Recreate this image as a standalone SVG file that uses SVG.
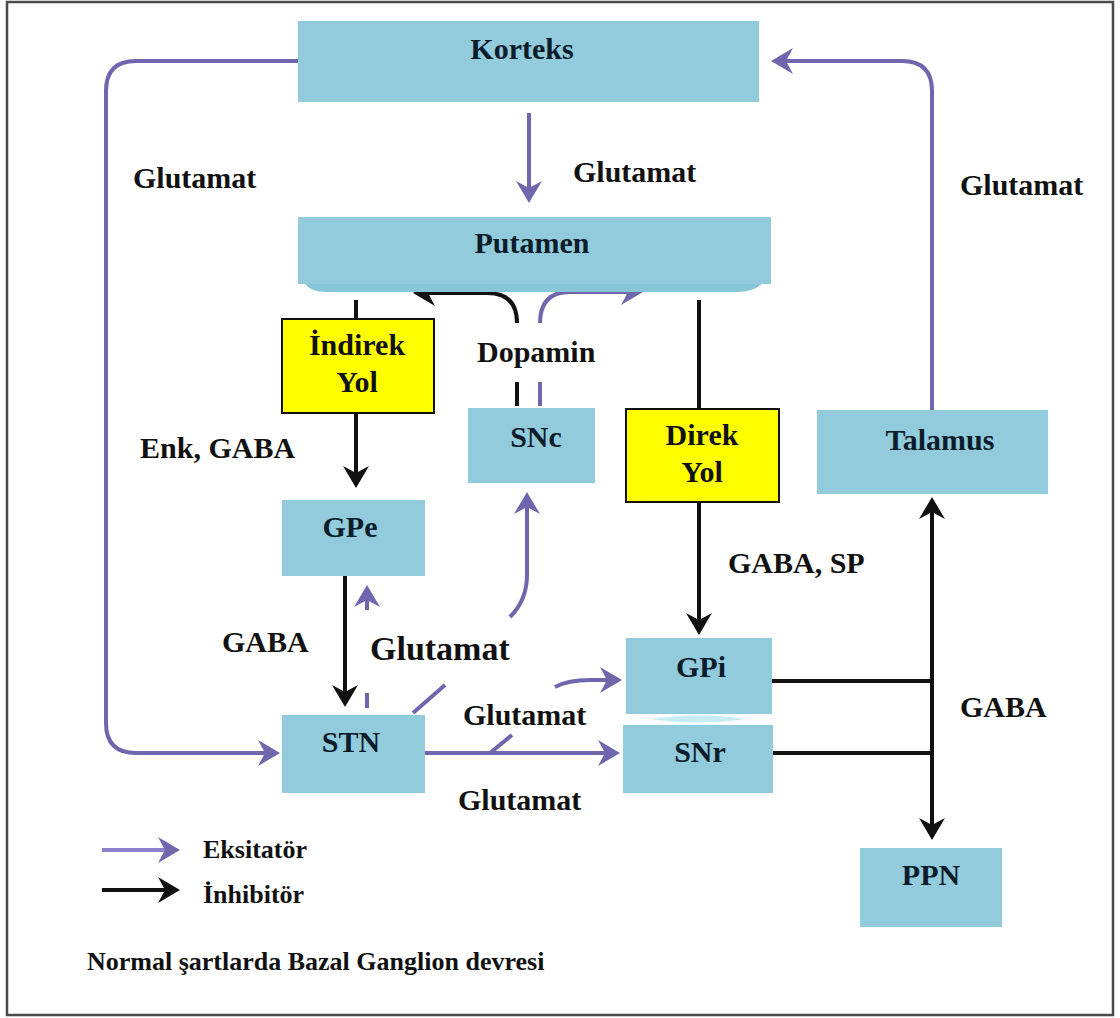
<svg xmlns="http://www.w3.org/2000/svg" width="1120" height="1018" viewBox="0 0 1120 1018">
<style>
text{font-family:"Liberation Serif","Times New Roman",serif;font-weight:bold;fill:#111;}
.t{font-size:30px;}
.nt{font-size:30px;fill:#0b1c2a;text-anchor:middle;}
.box{fill:#92cbdc;}
.yel{fill:#ffff00;stroke:#111;stroke-width:2;}
.ex{fill:none;stroke:#6f67ad;stroke-width:4;}
.exm{marker-end:url(#ah-ex);}
.in{fill:none;stroke:#111;stroke-width:4;}
.inm{marker-end:url(#ah-in);}
</style>
<defs>
<marker id="ah-ex" viewBox="0 0 22 26" refX="14" refY="13" markerWidth="22" markerHeight="26" markerUnits="userSpaceOnUse" orient="auto">
<path d="M0,0 L22,13 L0,26 L7,13 z" fill="#6f67ad"/>
</marker>
<marker id="ah-in" viewBox="0 0 22 26" refX="14" refY="13" markerWidth="22" markerHeight="26" markerUnits="userSpaceOnUse" orient="auto">
<path d="M0,0 L22,13 L0,26 L7,13 z" fill="#111"/>
</marker>
</defs>
<rect x="0" y="0" width="1120" height="1018" fill="#ffffff"/>
<rect x="7" y="2" width="1106" height="1013" fill="none" stroke="#4a4a4a" stroke-width="2.5"/>

<g id="connectors">
<path class="ex exm" d="M529 113 L529 195"/>
<path class="ex exm" d="M298 61 L136 61 Q106 61 106 91 L106 723 Q106 753 136 753 L272 753"/>
<path class="ex exm" d="M932 410 L932 91 Q932 61 902 61 L779 61"/>
<path class="in" d="M356 300 L356 319"/>
<path class="in inm" d="M356 413 L356 480"/>
<path class="in inm" d="M517 323 Q517 293 487 293 L421 293"/>
<path class="ex exm" d="M540 323 Q540 292 570 292 L635 292"/>
<path class="in" d="M517 382 L517 406"/>
<path class="ex" d="M540 382 L540 406"/>
<path class="in" d="M699 300 L699 409"/>
<path class="in inm" d="M699 502 L699 627"/>
<path class="in inm" d="M345 576 L345 699"/>
<path class="ex exm" d="M367 610 L367 593"/>
<path class="ex" d="M367 693 L367 708"/>
<path class="ex" d="M413 713 L445 685"/>
<path class="ex exm" d="M510 617 Q527 600 527 575 L527 500"/>
<path class="ex exm" d="M425 753 L612 753"/>
<path class="ex" d="M490 753 L512 735"/>
<path class="ex exm" d="M555 687 Q568 680 590 680 L614 680"/>
<path class="in" d="M772 681 L932 681"/>
<path class="in" d="M773 753 L932 753"/>
<path class="in inm" d="M932 717 L932 505"/>
<path class="in inm" d="M932 717 L932 832"/>
</g>

<g id="korteks">
<rect class="box" x="298" y="21" width="461" height="81"/>
<text class="nt" x="522" y="59">Korteks</text>
</g>
<g id="putamen">
<path d="M305 284 L762 284 Q752 292 738 292 L325 292 Q312 292 305 284 z" fill="#86c6d6"/>
<rect class="box" x="298" y="217" width="473" height="67"/>
<text class="nt" x="532" y="253">Putamen</text>
</g>
<g id="indirek-yol">
<rect class="yel" x="282" y="319" width="152" height="94"/>
<text class="nt" x="357" y="355" style="fill:#111">İndirek</text>
<text class="nt" x="357" y="392" style="fill:#111">Yol</text>
</g>
<g id="snc">
<rect class="box" x="468" y="408" width="127" height="75"/>
<text class="nt" x="536" y="447">SNc</text>
</g>
<g id="direk-yol">
<rect class="yel" x="626" y="409" width="153" height="93"/>
<text class="nt" x="702" y="445" style="fill:#111">Direk</text>
<text class="nt" x="702" y="482" style="fill:#111">Yol</text>
</g>
<g id="talamus">
<rect class="box" x="817" y="410" width="231" height="84"/>
<text class="nt" x="940" y="450">Talamus</text>
</g>
<g id="gpe">
<rect class="box" x="282" y="500" width="143" height="76"/>
<text class="nt" x="350" y="537">GPe</text>
</g>
<g id="stn">
<rect class="box" x="282" y="715" width="143" height="78"/>
<text class="nt" x="351" y="752">STN</text>
</g>
<g id="gpi">
<rect class="box" x="626" y="638" width="146" height="76"/>
<text class="nt" x="701" y="677">GPi</text>
</g>
<g id="snr">
<rect class="box" x="623" y="725" width="150" height="68"/>
<text class="nt" x="700" y="762">SNr</text>
</g>
<path d="M650 719 Q700 712 745 719 Q700 726 650 719 z" fill="#c6ecf4"/>
<g id="ppn">
<rect class="box" x="860" y="848" width="142" height="79"/>
<text class="nt" x="931" y="885">PPN</text>
</g>

<g id="labels">
<text class="t" x="573" y="182">Glutamat</text>
<text class="t" x="133" y="188">Glutamat</text>
<text class="t" x="960" y="195">Glutamat</text>
<text class="t" x="477" y="362">Dopamin</text>
<text class="t" x="140" y="458">Enk, GABA</text>
<text class="t" x="728" y="573">GABA, SP</text>
<text class="t" x="222" y="652">GABA</text>
<text x="370" y="660" style="font-size:34px">Glutamat</text>
<text class="t" x="960" y="717">GABA</text>
<text class="t" x="463" y="725">Glutamat</text>
<text class="t" x="458" y="810">Glutamat</text>
</g>

<g id="legend">
<path class="ex exm" d="M102 850 L172 850" style="stroke:#8a80cc"/>
<path class="in inm" d="M102 890 L172 890"/>
<text x="203" y="858" style="font-size:26px">Eksitatör</text>
<text x="203" y="903" style="font-size:26px">İnhibitör</text>
<text x="87" y="970" style="font-size:26px">Normal şartlarda Bazal Ganglion devresi</text>
</g>
</svg>
